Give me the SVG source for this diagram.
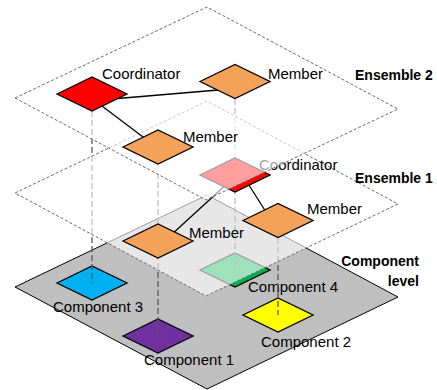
<svg xmlns="http://www.w3.org/2000/svg" width="437" height="390" viewBox="0 0 437 390">
<style>
.lbl{font-family:"Liberation Sans",Arial,sans-serif;font-size:15px;fill:#000}
.bold{font-family:"Liberation Sans",Arial,sans-serif;font-size:14px;font-weight:bold;fill:#000}
.node{stroke:#000;stroke-width:1.3;stroke-linejoin:miter}
.vline{stroke:#595959;stroke-width:1.3;stroke-dasharray:6 3;fill:none}
.link{stroke:#000;stroke-width:1.3;fill:none}
.plane{fill:#fff;fill-opacity:0.62;stroke:#6b6b6b;stroke-width:1;stroke-dasharray:3 2}
</style>
<defs>
<path id="dia" d="M-35,0 L0,-17 L35,0 L0,17 Z"/>
</defs>
<rect width="437" height="390" fill="#fff"/>
<g id="component-level">
<polygon points="15,287 207,195 398,297 207,389" fill="#bfbfbf" stroke="#000" stroke-width="1"/>
<text class="bold" x="419" y="266" text-anchor="end">Component</text>
<text class="bold" x="419" y="286" text-anchor="end">level</text>
</g>
<g id="component3"><use href="#dia" x="92" y="283" class="node" fill="#00b0f0"/><text class="lbl" x="53" y="312">Component 3</text></g>
<g id="component1"><use href="#dia" x="158" y="336" class="node" fill="#7030a0"/><text class="lbl" x="144" y="365">Component 1</text></g>
<g id="component2"><use href="#dia" x="278" y="315" class="node" fill="#ffff00"/><text class="lbl" x="261" y="347">Component 2</text></g>
<g id="component4"><use href="#dia" x="235" y="270" class="node" fill="#00b050"/><text class="lbl" x="248" y="292">Component 4</text></g>
<g id="connectors-vertical">
<line class="vline" x1="92" y1="111" x2="92" y2="283"/>
<line class="vline" x1="158" y1="164" x2="158" y2="336"/>
<line class="vline" x1="235" y1="99" x2="235" y2="270"/>
<line class="vline" x1="278" y1="238" x2="278" y2="315"/>
</g>
<g id="ensemble1-plane">
<polygon class="plane" points="15,193 207,101 398,204 206,296"/>
<text class="bold" x="355" y="183">Ensemble 1</text>
</g>
<g id="connectors-e1">
<line class="link" x1="170" y1="236" x2="230" y2="181"/>
<line class="link" x1="247" y1="182" x2="266" y2="212"/>
</g>
<g id="e1-coordinator"><use href="#dia" x="235" y="175" class="node" fill="#ff0000"/><text class="lbl" x="259" y="170">Coordinator</text></g>
<g id="e1-member-left"><use href="#dia" x="158" y="241" class="node" fill="#f4a15a"/><text class="lbl" x="189" y="238">Member</text></g>
<g id="e1-member-right"><use href="#dia" x="278" y="220.5" class="node" fill="#f4a15a"/><text class="lbl" x="307" y="214">Member</text></g>
<g id="ensemble2-plane">
<polygon class="plane" points="15,98 207,7 398,109 206,200"/>
<text class="bold" x="355" y="80">Ensemble 2</text>
</g>
<g id="connectors-e2">
<line class="link" x1="100" y1="100" x2="230" y2="89"/>
<line class="link" x1="98" y1="103" x2="147" y2="140"/>
</g>
<g id="e2-coordinator"><use href="#dia" x="92" y="94" class="node" fill="#ff0000"/><text class="lbl" x="102" y="79">Coordinator</text></g>
<g id="e2-member-right"><use href="#dia" x="235" y="81.5" class="node" fill="#f4a15a"/><text class="lbl" x="268" y="79">Member</text></g>
<g id="e2-member-lower"><use href="#dia" x="158" y="147" class="node" fill="#f4a15a"/><text class="lbl" x="183" y="142">Member</text></g>
</svg>
